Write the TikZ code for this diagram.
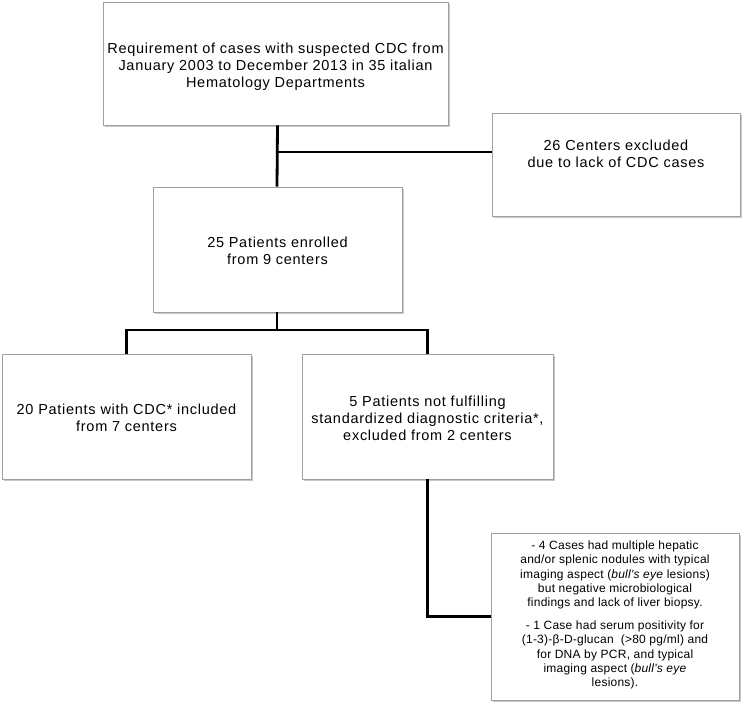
\documentclass[tikz,border=0pt]{standalone}
\usepackage{fontspec}
\setmainfont{Liberation Sans}
\newfontfamily\widefont{Liberation Sans}[LetterSpace=5]
\newfontfamily\smallfont{Liberation Sans}[LetterSpace=2]
\usetikzlibrary{shadows}
\definecolor{boxgray}{HTML}{A0A0A0}
\begin{document}
\begin{tikzpicture}[x=1pt,y=-1pt,
  box/.style={draw=boxgray, fill=white, line width=0.8pt, inner sep=0pt,
    drop shadow={shadow xshift=1.6pt, shadow yshift=-1.6pt, fill=black!40, opacity=0.55}},
  txt/.style={align=center, inner sep=0pt, font=\widefont\fontsize{14.5}{17}\selectfont},
  small/.style={align=center, inner sep=0pt, font=\smallfont\fontsize{12}{14.2}\selectfont},
  conn/.style={line width=2.8pt, black}]
\useasboundingbox (0,0) rectangle (742,703);

% boxes
\node[box, minimum width=345pt, minimum height=123pt] (top) at (275.5,63.5) {};
\node[box, minimum width=248pt, minimum height=103pt] (excl) at (616,164.5) {};
\node[box, minimum width=249pt, minimum height=125pt] (mid) at (277.5,249.5) {};
\node[box, minimum width=249pt, minimum height=125pt] (incl) at (126.5,416.5) {};
\node[box, minimum width=251pt, minimum height=125pt] (notf) at (427.5,416.5) {};
\node[box, minimum width=248pt, minimum height=167pt] (cases) at (615,616.5) {};

% texts
\node[txt] (toptext) at (275.5,67) {Requirement of cases with suspected CDC from\\January 2003 to December 2013 in 35 italian\\Hematology Departments};
\node[txt] (excltext) at (616,153.5) {26 Centers excluded\\due to lack of CDC cases};
\node[txt] (midtext) at (277.5,250.5) {25 Patients enrolled\\from 9 centers};
\node[txt] (incltext) at (126.5,418) {20 Patients with CDC* included\\from 7 centers};
\node[txt] (notftext) at (427.5,418.5) {5 Patients not fulfilling\\standardized diagnostic criteria*,\\excluded from 2 centers};
\node[small] (casestext) at (615,615) {- 4 Cases had multiple hepatic\\and/or splenic nodules with typical\\imaging aspect (\textit{bull's eye} lesions)\\but negative microbiological\\findings and lack of liver biopsy.\\[9pt]- 1 Case had serum positivity for\\(1-3)-β-D-glucan\ \ (>80 pg/ml) and\\for DNA by PCR, and typical\\imaging aspect (\textit{bull's eye}\\lesions).};

% connectors
\coordinate (j1) at (277,152);
\coordinate (j2) at (277,330);
\draw[conn] (mid.north |- top.south) -- (mid.north -| j1);
\draw[conn] (j1) -- (j1 -| excl.west);
\draw[conn] (mid.south -| j2) -- (j2);
\draw[conn] (incl.north) |- (j2) -| (notf.north);
\draw[conn] (notf.south) |- (cases.west);
\end{tikzpicture}
\end{document}
